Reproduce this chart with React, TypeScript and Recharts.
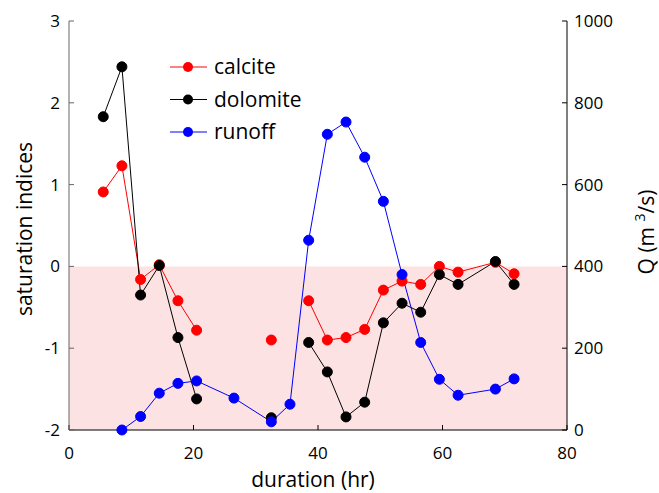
import React from 'react';
import {
  ComposedChart,
  Line,
  XAxis,
  YAxis,
  ReferenceArea,
} from 'recharts';

// sampling times (hr)
const duration = [5.5, 8.5, 11.5, 14.5, 17.5, 20.5, 26.5, 32.5, 35.5, 38.5, 41.5, 44.5, 47.5, 50.5, 53.5, 56.5, 59.5, 62.5, 68.5, 71.5];
// saturation indices
const calcite = [0.91, 1.23, -0.16, 0.02, -0.42, -0.78, null, -0.9, null, -0.42, -0.9, -0.87, -0.77, -0.29, -0.18, -0.22, 0.0, -0.07, 0.05, -0.09];
const dolomite = [1.83, 2.44, -0.35, 0.01, -0.87, -1.62, null, -1.85, null, -0.93, -1.29, -1.84, -1.66, -0.69, -0.45, -0.56, -0.1, -0.22, 0.06, -0.22];
// discharge Q (m3/s)
const runoff = [null, 0, 33, 90, 114, 120, 78, 20, 63, 464, 723, 753, 667, 559, 380, 214, 124, 85, 100, 125];

const xTicks = [0, 20, 40, 60, 80];
const siTicks = [-2, -1, 0, 1, 2, 3];
const qTicks = [0, 200, 400, 600, 800, 1000];

const series = [
  { key: 'calcite', name: 'calcite', color: '#ff0000', axis: 'si' },
  { key: 'dolomite', name: 'dolomite', color: '#000000', axis: 'si' },
  { key: 'runoff', name: 'runoff', color: '#0000ff', axis: 'q' },
];

const data = duration.map((t, i) => ({
  t,
  calcite: calcite[i],
  dolomite: dolomite[i],
  runoff: runoff[i],
}));

const FONT = '"Open Sans", "Liberation Sans", sans-serif';
const tickStyle = { fontSize: 17, fill: '#000', fontFamily: FONT };

const W = 659;
const H = 493;

export default function App() {
  return (
    <div style={{ position: 'absolute', left: 0, top: 0, width: W, height: H, background: '#fff' }}>
      <ComposedChart
        width={W}
        height={H}
        data={data}
        margin={{ top: 21, right: 0, bottom: 0, left: 0 }}
      >
        <XAxis
          xAxisId="bottom"
          dataKey="t"
          type="number"
          domain={[0, 80]}
          ticks={xTicks}
          height={63}
          tickSize={-5}
          tickMargin={22}
          tick={tickStyle}
          stroke="#000"
          tickLine={{ stroke: '#000' }}
        />
        <XAxis
          xAxisId="top"
          dataKey="t"
          type="number"
          orientation="top"
          domain={[0, 80]}
          ticks={xTicks}
          height={0}
          tickSize={-5}
          tickFormatter={() => ''}
          stroke="#666"
          tickLine={{ stroke: '#666' }}
        />
        <YAxis
          yAxisId="si"
          type="number"
          domain={[-2, 3]}
          ticks={siTicks}
          width={69}
          tickSize={-5}
          tickMargin={14}
          tick={tickStyle}
          stroke="#666"
          tickLine={{ stroke: '#666' }}
        />
        <YAxis
          yAxisId="q"
          orientation="right"
          type="number"
          domain={[0, 1000]}
          ticks={qTicks}
          width={92}
          tickSize={-5}
          tickMargin={12}
          tick={{ ...tickStyle, textAnchor: 'start' }}
          stroke="#000"
          tickLine={{ stroke: '#000' }}
        />
        <ReferenceArea
          xAxisId="bottom"
          yAxisId="si"
          x1={0}
          x2={80}
          y1={-2}
          y2={0}
          fill="#fde2e3"
          fillOpacity={1}
          stroke="none"
          ifOverflow="visible"
        />
        {series.map((s) => (
          <Line
            key={s.key}
            xAxisId="bottom"
            yAxisId={s.axis}
            dataKey={s.key}
            name={s.name}
            type="linear"
            stroke={s.color}
            strokeWidth={1}
            dot={{ r: 5, fill: s.color, stroke: s.color, strokeWidth: 1 }}
            connectNulls={false}
            isAnimationActive={false}
          />
        ))}
      </ComposedChart>

      {/* axis titles and legend */}
      <svg
        width={W}
        height={H}
        style={{ position: 'absolute', left: 0, top: 0, pointerEvents: 'none' }}
      >
        <text
          x={0}
          y={0}
          transform="translate(32,229) rotate(-90)"
          textAnchor="middle"
          fontSize={21}
          fontFamily={FONT}
          fill="#000"
        >
          saturation indices
        </text>
        <text
          x={313}
          y={487}
          textAnchor="middle"
          fontSize={21}
          fontFamily={FONT}
          fill="#000"
        >
          duration (hr)
        </text>
        <text
          x={0}
          y={0}
          transform="translate(654,232) rotate(-90)"
          textAnchor="middle"
          fontSize={21}
          fontFamily={FONT}
          fill="#000"
        >
          Q (m <tspan fontSize={14} dy={-9}>3</tspan>
          <tspan dy={9}>/s)</tspan>
        </text>
        {series.map((s, i) => {
          const y = 67 + i * 32.5;
          return (
            <g key={s.key}>
              <line x1={170} x2={207} y1={y} y2={y} stroke={s.color} strokeWidth={1} />
              <circle cx={188} cy={y} r={5} fill={s.color} />
              <text
                x={214}
                y={y + 7}
                fontSize={21}
                fontFamily={FONT}
                fill="#000"
              >
                {s.name}
              </text>
            </g>
          );
        })}
      </svg>
    </div>
  );
}
